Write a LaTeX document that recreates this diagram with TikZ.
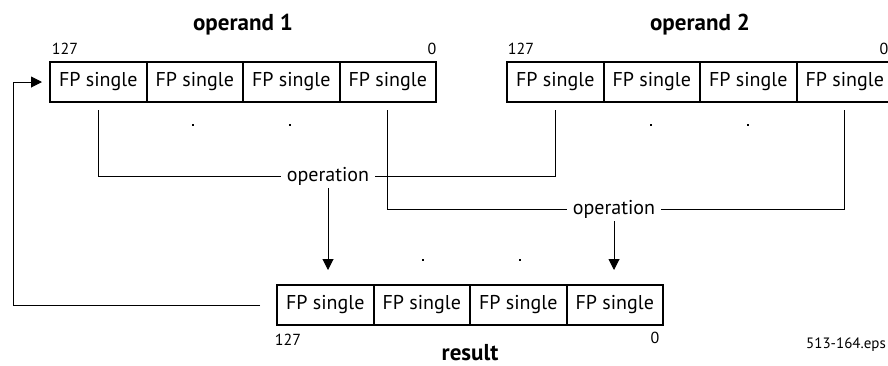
\documentclass[tikz,border=0pt]{standalone}
\usepackage{fontspec}
\setmainfont{PT Sans}
\usetikzlibrary{arrows.meta}
\begin{document}
\begin{tikzpicture}[x=1pt,y=-1pt,
  cell/.style={draw,line width=2pt,minimum width=96.5pt,minimum height=40pt,inner sep=0pt,font=\fontsize{20}{22}\selectfont},
  bits/.style={font=\fontsize{16}{18}\selectfont,inner sep=0pt},
  title/.style={font=\fontsize{23}{26}\selectfont\bfseries,inner sep=0pt,anchor=base},
  oplabel/.style={font=\fontsize{20}{22}\selectfont,inner xsep=6pt,inner ysep=3pt,fill=white},
  dot/.style={rectangle,fill,inner sep=0pt,minimum size=2.5pt},
  conn/.style={line width=1pt},
  arr/.style={line width=1pt,-{Triangle[length=11pt,width=11pt]}}]
\useasboundingbox (0,0) rectangle (888,365);
% operand 1
\foreach \i/\x in {1/98.25,2/194.75,3/291.25,4/387.75}
  \node[cell] (a\i) at (\x,82) {FP single};
% operand 2
\foreach \i/\x in {1/555.25,2/651.75,3/748.25,4/844.75}
  \node[cell] (b\i) at (\x,82) {FP single};
% result
\foreach \i/\x in {1/325.25,2/421.75,3/518.25,4/614.75}
  \node[cell] (r\i) at (\x,305) {FP single};
\node[title] (t1) at (243,30) {operand 1};
\node[title] (t2) at (700,30) {operand 2};
\node[title] (t3) at (470,360) {result};
\node[bits] (a127) at (65,48.5) {127};
\node[bits] (a0) at (432,48.5) {0};
\node[bits] (b127) at (521,48.5) {127};
\node[bits] (b0) at (884,48.5) {0};
\node[bits] (r127) at (288,340) {127};
\node[bits] (r0) at (655,338) {0};
\node[bits,font=\fontsize{15}{17}\selectfont] (eps) at (846,345) {513-164.eps};
% dots
\node[dot] (d1) at (193,125) {};
\node[dot] (d2) at (290,125) {};
\node[dot] (d3) at (651,125) {};
\node[dot] (d4) at (748,125) {};
\node[dot] (d5) at (423,260) {};
\node[dot] (d6) at (520,260) {};
% operation labels
\node[oplabel] (op1) at (328,176) {operation};
\node[oplabel] (op2) at (614,209) {operation};
\coordinate (a1b) at (98.25,110);
\coordinate (a4b) at (387.75,110);
\coordinate (b1b) at (555.25,110);
\coordinate (b4b) at (844.75,110);
\draw[conn] (a1b) |- (op1.west);
\draw[conn] (op1.east) -| (b1b);
\draw[conn] (a4b) |- (op2.west);
\draw[conn] (op2.east) -| (b4b);
\draw[arr] (op1.south) -- (op1.south |- 0,270);
\draw[arr] (op2.south) -- (op2.south |- 0,270);
% feedback
\coordinate (fb1) at (260,305);
\coordinate (fb2) at (13,82);
\draw[arr] (fb1) -| (fb2) -- ([xshift=-7pt]a1.west);
\end{tikzpicture}
\end{document}
